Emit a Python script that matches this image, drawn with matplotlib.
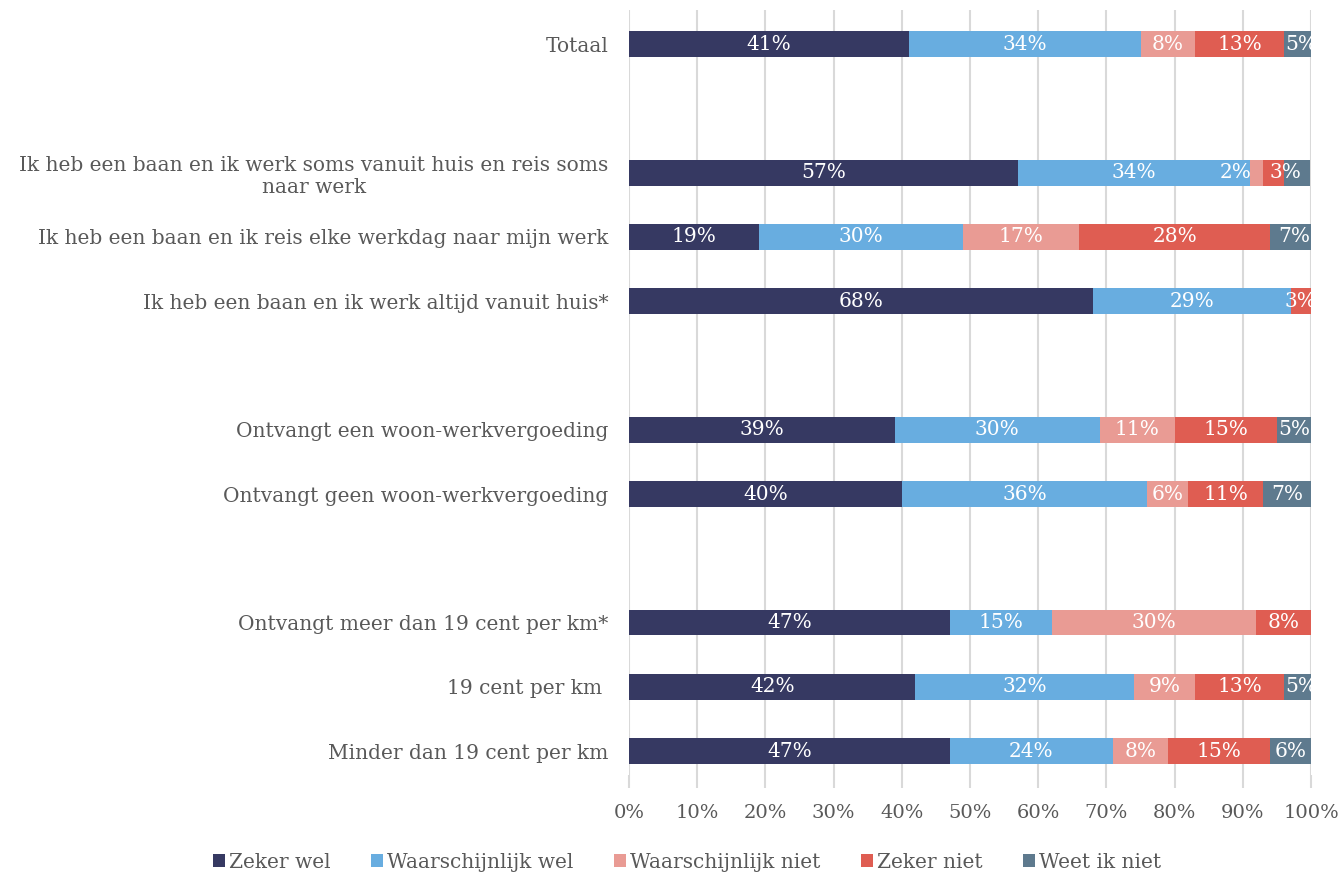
"""Reisgedrag: stacked horizontal bars"""
import matplotlib.pyplot as plt
import numpy as np

plt.rcParams["font.family"] = ["DejaVu Serif"]

# Categorieën (lege string = witregel)
categories = [
    "Totaal",
    "",
    "Ik heb een baan en ik werk soms vanuit huis en reis soms\nnaar werk",
    "Ik heb een baan en ik reis elke werkdag naar mijn werk",
    "Ik heb een baan en ik werk altijd vanuit huis*",
    "",
    "Ontvangt een woon-werkvergoeding",
    "Ontvangt geen woon-werkvergoeding",
    "",
    "Ontvangt meer dan 19 cent per km*",
    "19 cent per km ",
    "Minder dan 19 cent per km",
]

series = ["Zeker wel", "Waarschijnlijk wel", "Waarschijnlijk niet", "Zeker niet", "Weet ik niet"]
colors = ["#363962", "#68ade0", "#e99b94", "#df5d52", "#5e7a8e"]

zeker_wel = [41, 0, 57, 19, 68, 0, 39, 40, 0, 47, 42, 47]
waarsch_wel = [34, 0, 34, 30, 29, 0, 30, 36, 0, 15, 32, 24]
waarsch_niet = [8, 0, 2, 17, 0, 0, 11, 6, 0, 30, 9, 8]
zeker_niet = [13, 0, 3, 28, 3, 0, 15, 11, 0, 8, 13, 15]
weet_niet = [5, 0, 3.9, 7, 0, 0, 5, 7, 0, 0, 5, 6]

# label dat in het origineel niet zichtbaar is (rij, reeks)
hidden_labels = [(2, 4)]
# handmatig verschoven labels (rij, reeks): verschuiving in procentpunten
label_shift = {(2, 2): -3.0, (2, 3): 1.8}

data = [zeker_wel, waarsch_wel, waarsch_niet, zeker_niet, weet_niet]

fig, ax = plt.subplots(figsize=(13.43, 8.73), dpi=100)
fig.subplots_adjust(left=0.4684, right=0.9762, top=0.9885, bottom=0.1123)

y = np.arange(len(categories))
left = np.zeros(len(categories))
for s, (vals, name, col) in enumerate(zip(data, series, colors)):
    vals = np.array(vals, dtype=float)
    ax.barh(y, vals, left=left, height=0.4, color=col, label=name, zorder=3)
    for i, v in enumerate(vals):
        if v > 0 and (i, s) not in hidden_labels:
            xpos = left[i] + v / 2 + label_shift.get((i, s), 0)
            ax.text(xpos, y[i], f"{int(v)}%", ha="center", va="center",
                    color="white", fontsize=14.5, zorder=4, clip_on=True)
    left += vals

ax.set_ylim(11.37, -0.53)
ax.set_xlim(0, 100)
ax.set_yticks(y)
ax.set_yticklabels(categories, fontsize=14.5, color="#595959")
ax.tick_params(axis="y", length=0, pad=15)
for lbl in ax.get_yticklabels():
    lbl.set_multialignment("center")

ax.set_xticks(np.arange(0, 101, 10))
ax.set_xticklabels([f"{t}%" for t in range(0, 101, 10)], fontsize=14, color="#595959")
ax.tick_params(axis="x", length=9, width=1.5, color="#d9d9d9", pad=12)

ax.grid(True, axis="x", color="#d9d9d9", linewidth=1.5, zorder=0)
for sp in ax.spines.values():
    sp.set_visible(False)

fig.legend(loc="center", bbox_to_anchor=(0.5115, 1 - 862 / 873), ncol=5, frameon=False,
           fontsize=14.5, handlelength=0.6, handleheight=0.6, handletextpad=0.2,
           columnspacing=2.0, labelcolor="#595959")

plt.savefig("out.png", dpi=100)
